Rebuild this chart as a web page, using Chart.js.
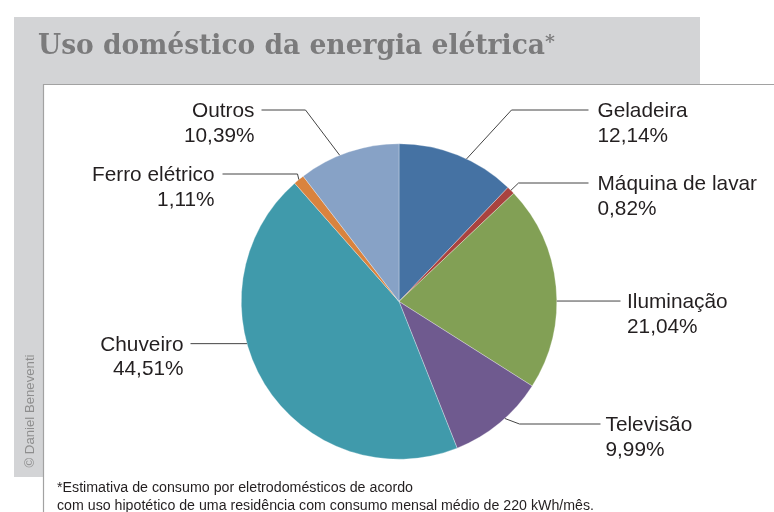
<!DOCTYPE html>
<html lang="pt-BR">
<head>
<meta charset="UTF-8">
<title>Uso doméstico da energia elétrica</title>
<script src="https://cdn.jsdelivr.net/npm/chart.js"></script>
<style>
  html, body { margin: 0; padding: 0; background: #fff; }
  #wrap { width: 774px; height: 512px; }
</style>
</head>
<body>
<div id="wrap"><canvas id="pie" width="774" height="512"></canvas></div>
<script>
const categories = ['Geladeira', 'Máquina de lavar', 'Iluminação', 'Televisão', 'Chuveiro', 'Ferro elétrico', 'Outros'];
const shares = [12.14, 0.82, 21.04, 9.99, 44.51, 1.11, 10.39];
const sliceColors = ['#4572a3', '#a9433f', '#82a055', '#6f5a8f', '#409aab', '#d9833e', '#87a2c6'];

const titleText = 'Uso doméstico da energia elétrica';
const footnoteLines = [
  '*Estimativa de consumo por eletrodomésticos de acordo',
  'com uso hipotético de uma residência com consumo mensal médio de 220 kWh/mês.'
];
const creditText = '© Daniel Beneventi';

// callout layout, in px relative to the pie centre
// at = where along the slice edge the leader starts (0..1)
// elbow = bend point (null: straight horizontal), end = x where the line stops, text = x of the label edge
const callouts = [
  { at: 0.58, elbow: [112.5, -191.5], end: 189.5, text: 198.5 },
  { at: 0.50, elbow: [119.5, -118.5], end: 189.5, text: 198.5 },
  { at: 0.57, elbow: null, end: 221.5, text: 228 },
  { at: 0.43, elbow: [120.5, 122.5], end: 201.5, text: 206.5 },
  { at: 0.60, elbow: null, end: -208.5, text: -215.5 },
  { at: 0.50, elbow: [-101.5, -127.5], end: -176.5, text: -184.5 },
  { at: 0.41, elbow: [-93.5, -191.5], end: -137.5, text: -144.5 }
];

const fmtPct = v => v.toFixed(2).replace('.', ',') + '%';

// draws text squeezed/stretched to a given width
function fitText(ctx, str, x, y, width) {
  const w = ctx.measureText(str).width;
  ctx.save();
  ctx.translate(x, y);
  ctx.scale(width / w, 1);
  ctx.fillText(str, 0, 0);
  ctx.restore();
}

const framePlugin = {
  id: 'frame',
  beforeDraw(chart) {
    const ctx = chart.ctx;
    ctx.save();
    ctx.fillStyle = '#d3d4d6';
    ctx.fillRect(14, 17, 686, 67);
    ctx.fillRect(14, 84, 29.5, 393);
    ctx.strokeStyle = '#a2a2a2';
    ctx.lineWidth = 1.2;
    ctx.beginPath();
    ctx.moveTo(43.5, 512);
    ctx.lineTo(43.5, 84.5);
    ctx.lineTo(774, 84.5);
    ctx.stroke();

    // title
    ctx.fillStyle = '#7b7b7c';
    ctx.textBaseline = 'alphabetic';
    ctx.textAlign = 'left';
    ctx.font = 'bold 28px "DejaVu Serif"';
    fitText(ctx, titleText, 38, 54, 507);
    ctx.font = 'bold 19px "DejaVu Serif"';
    ctx.fillText('*', 545, 48);

    // credit, running up the left strip
    ctx.save();
    ctx.translate(34, 411);
    ctx.rotate(-Math.PI / 2);
    ctx.fillStyle = '#8e8e8e';
    ctx.font = '12.5px "Liberation Sans"';
    ctx.textAlign = 'left';
    fitText(ctx, creditText, -56.5, 0, 113);
    ctx.restore();

    // footnote
    ctx.fillStyle = '#231f20';
    ctx.font = '14px "Liberation Sans"';
    fitText(ctx, footnoteLines[0], 57, 492, 356);
    fitText(ctx, footnoteLines[1], 57, 509.5, 537);
    ctx.restore();
  }
};

const calloutPlugin = {
  id: 'callouts',
  afterDatasetsDraw(chart) {
    const ctx = chart.ctx;
    const arcs = chart.getDatasetMeta(0).data;
    ctx.save();
    arcs.forEach((arc, i) => {
      const c = callouts[i];
      const p = arc.getProps(['x', 'y', 'startAngle', 'endAngle', 'outerRadius'], true);
      const a = p.startAngle + c.at * (p.endAngle - p.startAngle);
      const sx = p.x + p.outerRadius * Math.cos(a);
      const sy = p.y + p.outerRadius * Math.sin(a);
      const lineY = c.elbow ? p.y + c.elbow[1] : sy;

      ctx.strokeStyle = '#444';
      ctx.lineWidth = 1;
      ctx.beginPath();
      ctx.moveTo(sx, sy);
      if (c.elbow) ctx.lineTo(p.x + c.elbow[0], lineY);
      ctx.lineTo(p.x + c.end, lineY);
      ctx.stroke();

      ctx.fillStyle = '#231f20';
      ctx.font = '20.8px "Liberation Sans"';
      ctx.textBaseline = 'alphabetic';
      ctx.textAlign = c.text > 0 ? 'left' : 'right';
      const tx = p.x + c.text;
      ctx.fillText(categories[i], tx, lineY + 7);
      ctx.fillText(fmtPct(shares[i]), tx, lineY + 31.5);
    });
    ctx.restore();
  }
};

new Chart(document.getElementById('pie'), {
  type: 'pie',
  data: {
    labels: categories,
    datasets: [{
      data: shares,
      backgroundColor: sliceColors,
      borderColor: 'rgba(255,255,255,0.6)',
      borderWidth: 0.5,
      hoverOffset: 0,
      offset: 0
    }]
  },
  options: {
    responsive: false,
    animation: false,
    layout: { padding: { left: 240.5, right: 216.5, top: 143.5, bottom: 52.5 } },
    plugins: {
      legend: { display: false },
      tooltip: { enabled: false }
    }
  },
  plugins: [framePlugin, calloutPlugin]
});
</script>
</body>
</html>
